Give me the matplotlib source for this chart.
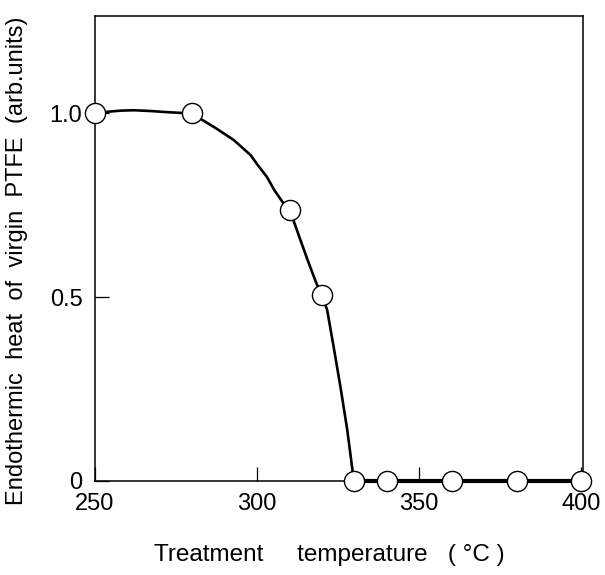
import matplotlib
matplotlib.use("Agg")
import matplotlib.pyplot as plt

# measured points
temp = [250, 280, 310, 320, 330, 340, 360, 380, 400]
heat = [1.0, 1.0, 0.738, 0.505, 0.0, 0.0, 0.0, 0.0, 0.0]

# hand-drawn guide curve
curve_t = [250, 254, 258, 262, 267, 272, 276, 280, 282.5, 287.5, 292.8,
           298, 300.2, 303, 305.3, 307.8, 310, 311, 313, 315.6, 318.3,
           320, 321.6, 323.6, 325.7, 327.8, 329.4, 330]
curve_h = [1.0, 1.004, 1.007, 1.008, 1.006, 1.003, 1.001, 1.0, 0.985, 0.958, 0.927,
           0.886, 0.859, 0.827, 0.791, 0.759, 0.738, 0.714, 0.664, 0.600, 0.537,
           0.505, 0.465, 0.365, 0.256, 0.139, 0.03, 0.0]
flat_t = [330, 400]
flat_h = [0.0, 0.0]

xticks = [250, 300, 350, 400]
yticks = [0, 0.5, 1.0]
ytick_labels = ["0", "0.5", "1.0"]

plt.rcParams['font.family'] = ['Liberation Sans', 'DejaVu Sans']

fig = plt.figure(figsize=(6.05, 5.75), dpi=100)
ax = fig.add_axes([0.157, 0.1635, 0.8066, 0.8085])

ax.plot(curve_t, curve_h, color='black', lw=1.9, zorder=2,
        solid_joinstyle='round')
ax.plot(flat_t, flat_h, color='black', lw=3.0, zorder=2, clip_on=False)
ax.plot(temp, heat, 'o', ms=14.5, mfc='white', mec='black', mew=1.0,
        zorder=3, clip_on=False)

ax.set_xlim(250, 400.5)
ax.set_ylim(0, 1.264)
ax.set_xticks(xticks)
ax.set_yticks(yticks)
ax.set_yticklabels(ytick_labels)
ax.tick_params(direction='in', length=10, width=0.9, labelsize=17,
               top=False, right=False)
ax.tick_params(axis='x', pad=9)
ax.tick_params(axis='y', pad=9)
for s in ax.spines.values():
    s.set_linewidth(1.1)

ax.set_xlabel("Treatment     temperature   ( °C )", fontsize=17.5)
ax.xaxis.set_label_coords(0.48, -0.135)
ax.set_ylabel("Endothermic  heat  of  virgin  PTFE  (arb.units)", fontsize=17)
ax.yaxis.set_label_coords(-0.137, 0.473)

fig.savefig("out.png", dpi=100)
